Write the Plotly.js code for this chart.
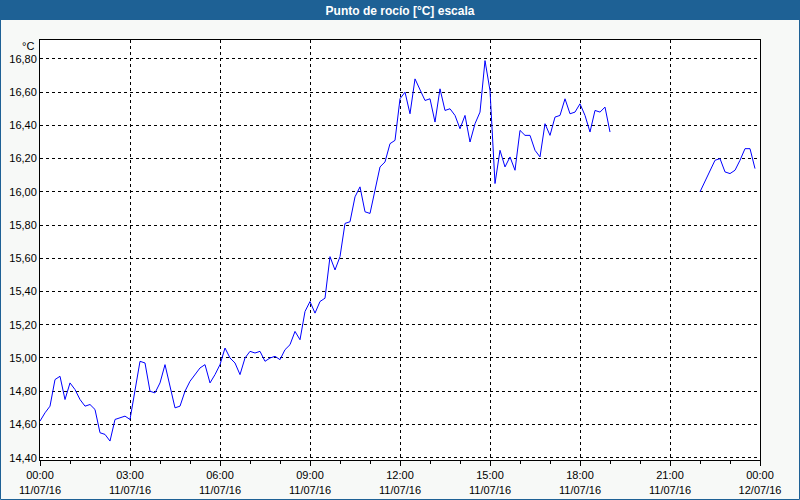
<!DOCTYPE html>
<html>
<head>
<meta charset="utf-8">
<script src="https://cdn.plot.ly/plotly-3.0.1.min.js"></script>
<style>
html,body{margin:0;padding:0;background:#f7f9f7;}
#chart{width:800px;height:500px;}
</style>
</head>
<body>
<div id="chart"></div>
<script>
// Dew point readings every 10 minutes
const seg1Start = '2016-07-11T00:00:00';
const seg1Values = [
  14.62,14.67,14.71,14.87,14.89,14.75,14.85,14.81,14.75,14.71,
  14.72,14.69,14.55,14.54,14.50,14.63,14.64,14.65,14.63,14.81,
  14.98,14.97,14.80,14.79,14.85,14.96,14.82,14.70,14.71,14.80,
  14.86,14.90,14.94,14.96,14.85,14.90,14.96,15.06,15.00,14.97,
  14.90,15.00,15.04,15.03,15.04,14.98,15.00,15.01,14.99,15.05,
  15.08,15.16,15.11,15.28,15.34,15.27,15.34,15.36,15.61,15.53,
  15.61,15.81,15.82,15.97,16.03,15.88,15.87,16.01,16.15,16.18,
  16.29,16.31,16.56,16.60,16.47,16.68,16.61,16.55,16.56,16.42,
  16.62,16.49,16.50,16.46,16.38,16.46,16.30,16.41,16.48,16.79,
  16.61,16.05,16.25,16.15,16.21,16.13,16.37,16.34,16.34,16.25,
  16.21,16.41,16.34,16.45,16.46,16.56,16.47,16.48,16.53,16.46,
  16.36,16.49,16.48,16.51,16.36
];
const seg2Start = '2016-07-11T22:00:00';
const seg2Values = [16.00,16.06,16.13,16.19,16.20,16.12,16.11,16.13,16.19,16.26,16.26,16.14];
const stepMinutes = 10;

const tickVals = ['2016-07-11 00:00','2016-07-11 03:00','2016-07-11 06:00','2016-07-11 09:00','2016-07-11 12:00','2016-07-11 15:00','2016-07-11 18:00','2016-07-11 21:00','2016-07-12 00:00'];
const tickTimes = ['00:00','03:00','06:00','09:00','12:00','15:00','18:00','21:00','00:00'];
const tickDates = ['11/07/16','11/07/16','11/07/16','11/07/16','11/07/16','11/07/16','11/07/16','11/07/16','12/07/16'];
const yTicks = [14.4,14.6,14.8,15.0,15.2,15.4,15.6,15.8,16.0,16.2,16.4,16.6,16.8];

function pad(n){return (n<10?'0':'')+n;}
function times(start, n){
  const t0 = new Date(start + 'Z').getTime();
  const out = [];
  for(let i=0;i<n;i++){
    const d = new Date(t0 + i*stepMinutes*60000);
    out.push(d.getUTCFullYear()+'-'+pad(d.getUTCMonth()+1)+'-'+pad(d.getUTCDate())+' '+pad(d.getUTCHours())+':'+pad(d.getUTCMinutes()));
  }
  return out;
}

const lineStyle = {color:'#0000ff', width:1};
const traces = [
  {x: times(seg1Start, seg1Values.length), y: seg1Values, type:'scatter', mode:'lines', line: lineStyle, hoverinfo:'x+y'},
  {x: times(seg2Start, seg2Values.length), y: seg2Values, type:'scatter', mode:'lines', line: lineStyle, hoverinfo:'x+y'}
];

const W = 720, H = 420;
const layout = {
  width: 800, height: 500,
  margin: {l:40, r:40, t:40, b:40, pad:0},
  paper_bgcolor: '#f7f9f7',
  plot_bgcolor: '#ffffff',
  showlegend: false,
  separators: ',.',
  font: {family:'Liberation Sans, Arial, sans-serif', size:11, color:'#000000'},
  title: {
    text: '<b>Punto de rocío [°C] escala</b>',
    font: {family:'Liberation Sans, Arial, sans-serif', size:12, color:'#ffffff'},
    x: 0.5, xanchor:'center', y: 1 - 10.5/500, yanchor:'middle', yref:'container'
  },
  xaxis: {
    type:'date',
    range:['2016-07-11 00:00','2016-07-12 00:00'],
    tickvals: tickVals,
    ticktext: tickTimes.map((t,i)=>t+'<br>'+tickDates[i]),
    ticks:'outside', ticklen:5, tickcolor:'#000', tickwidth:1,
    minor: {dtick: 3600000, ticks:'outside', ticklen:3, tickcolor:'#000', showgrid:false},
    showgrid:true, gridcolor:'#000000', griddash:'3px,3px', gridwidth:1,
    showline:true, linecolor:'#000', linewidth:1, mirror:true,
    zeroline:false, fixedrange:true, tickangle:0,
    tickfont:{size:11, color:'#000'}
  },
  yaxis: {
    range:[14.386, 16.914],
    tickvals: yTicks,
    tickformat: '.2f',
    ticks:'', 
    showgrid:true, gridcolor:'#000000', griddash:'3px,3px', gridwidth:1,
    showline:true, linecolor:'#000', linewidth:1, mirror:true,
    zeroline:false, fixedrange:true,
    tickfont:{size:11, color:'#000'}
  },
  shapes: [
    {type:'rect', xref:'paper', yref:'paper', x0:-40/W, x1:1+40/W, y0:1+20/H, y1:1+40/H,
     fillcolor:'#1e6195', line:{width:0}, layer:'below'},
    {type:'rect', xref:'paper', yref:'paper', x0:-39.5/W, x1:1+39.5/W, y0:-39.5/H, y1:1+39.5/H,
     fillcolor:'rgba(0,0,0,0)', line:{color:'#1e6195', width:1}, layer:'above'}
  ],
  annotations: [
    {text:'°C', xref:'paper', yref:'paper', x:-4/W, y:1-6/H, xanchor:'right', yanchor:'middle',
     showarrow:false, font:{size:11, color:'#000'}}
  ]
};

Plotly.newPlot('chart', traces, layout, {displayModeBar:false, staticPlot:true});
</script>
</body>
</html>
